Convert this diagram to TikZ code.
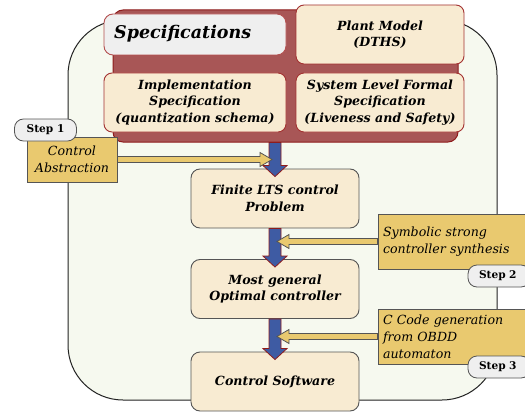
\documentclass[tikz,border=0pt]{standalone}
\usepackage{fontspec}
\setmainfont{DejaVu Serif}
\usetikzlibrary{calc}
\definecolor{bgfill}{HTML}{F6F9EF}
\definecolor{bgdraw}{HTML}{222222}
\definecolor{panelfill}{HTML}{A85656}
\definecolor{paneldraw}{HTML}{8E1C1C}
\definecolor{cream}{HTML}{F8EBD2}
\definecolor{creamdraw}{HTML}{A33232}
\definecolor{specfill}{HTML}{EFEFEF}
\definecolor{specdraw}{HTML}{B45050}
\definecolor{gold}{HTML}{E9C96F}
\definecolor{graydraw}{HTML}{555555}
\definecolor{bluearr}{HTML}{3E5BA3}
\tikzset{
  bbi/.style={font=\fontsize{12.6}{16.5}\selectfont\bfseries\itshape, align=center},
  specbox/.style={draw=creamdraw, fill=cream, line width=0.9pt, rounded corners=8pt, minimum height=59pt, inner sep=0pt, bbi},
  procbox/.style={draw=graydraw, fill=cream, line width=0.9pt, rounded corners=9pt, minimum width=168pt, minimum height=59pt, inner sep=0pt, bbi},
  goldbox/.style={draw=graydraw, fill=gold, line width=0.8pt, minimum height=55pt, inner sep=0pt, font=\fontsize{12.6}{17}\selectfont\itshape},
  steppill/.style={draw=graydraw, fill=specfill, line width=0.8pt, rounded corners=9pt, minimum width=62pt, minimum height=22pt, inner sep=0pt, font=\fontsize{10.6}{12}\selectfont\bfseries},
  bluefat/.style={fill=bluearr, draw=paneldraw, line width=0.8pt, line join=miter},
  goldfat/.style={fill=gold, draw=graydraw, line width=0.8pt, line join=miter},
}
\newcommand\vfat[2]{\draw[bluefat] ($(#1)+(-6,0)$) -- ($(#2)+(-6,-11)$) -- ($(#2)+(-12,-11)$) -- (#2) -- ($(#2)+(12,-11)$) -- ($(#2)+(6,-11)$) -- ($(#1)+(6,0)$) -- cycle;}
\newcommand\hfat[3]{\draw[goldfat] ($(#1)+(0,-3)$) -- ($(#2)+(-12*#3,-3)$) -- ($(#2)+(-12*#3,-7)$) -- (#2) -- ($(#2)+(-12*#3,7)$) -- ($(#2)+(-12*#3,3)$) -- ($(#1)+(0,3)$) -- cycle;}
\begin{document}
\begin{tikzpicture}[x=1pt,y=-1pt]
\clip (0,0) rectangle (525,412);
\fill[white] (0,0) rectangle (525,412);
% background
\draw[fill=bgfill, draw=bgdraw, line width=1pt, rounded corners=55pt] (68,20) rectangle (497,400);
% specification panel
\node[draw=paneldraw, fill=panelfill, line width=1pt, rounded corners=10pt, minimum width=345pt, minimum height=132pt, inner sep=0pt] (panel) at (285.5,76) {};
\node[draw=specdraw, fill=specfill, line width=0.9pt, rounded corners=9pt, minimum width=182pt, minimum height=41pt, inner sep=0pt] (spec) at (195,34.5) {};
\node[anchor=west, font=\fontsize{17.5}{20}\selectfont\bfseries\itshape, inner sep=0pt] (spectext) at (114,34) {Specifications};
\node[specbox, minimum width=168pt] (plant) at (380,34.5) {Plant Model\\(DTHS)};
\node[specbox, minimum width=182pt] (impl) at (195,102.5) {Implementation\\Specification\\(quantization schema)};
\node[specbox, minimum width=168pt] (sys) at (380,102.5) {System Level Formal\\Specification\\(Liveness and Safety)};
% process boxes
\node[procbox] (lts) at (275,198.5) {Finite LTS control\\Problem};
\node[procbox] (mg) at (275,289) {Most general\\Optimal controller};
\node[procbox] (cs) at (275,381.5) {Control Software};
% blue arrows
\coordinate (b1s) at (panel.south -| lts.north);
\coordinate (b1t) at ($(lts.north)+(0,8)$);
\vfat{b1s}{b1t}
\coordinate (b2t) at ($(mg.north)+(0,8)$);
\vfat{lts.south}{b2t}
\coordinate (b3t) at ($(cs.north)+(0,8)$);
\vfat{mg.south}{b3t}
% gold boxes
\node[goldbox, minimum width=90pt, minimum height=45pt, align=center] (abs) at (72,159.5) {Control\\Abstraction};
\node[goldbox, minimum width=152pt, align=left, text width=142pt] (sym) at (454,241.5) {Symbolic strong\\controller synthesis};
\node[goldbox, minimum width=152pt, align=left, text width=142pt] (ccode) at (454,336.5) {C Code generation\\from OBDD\\automaton};
% gold arrows
\coordinate (g1t) at ($(lts.north |- abs.east)+(-3,0)$);
\hfat{abs.east}{g1t}{1}
\coordinate (g2t) at ($(mg.north |- sym.west)+(2,0)$);
\hfat{sym.west}{g2t}{-1}
\coordinate (g3t) at ($(cs.north |- ccode.west)+(2,0)$);
\hfat{ccode.west}{g3t}{-1}
% step pills
\node[steppill] (s1) at (45.5,130) {Step 1};
\node[steppill, text width=40pt, align=left] (s2) at (499,276) {Step 2};
\node[steppill, text width=40pt, align=left] (s3) at (499,367) {Step 3};
\end{tikzpicture}
\end{document}
